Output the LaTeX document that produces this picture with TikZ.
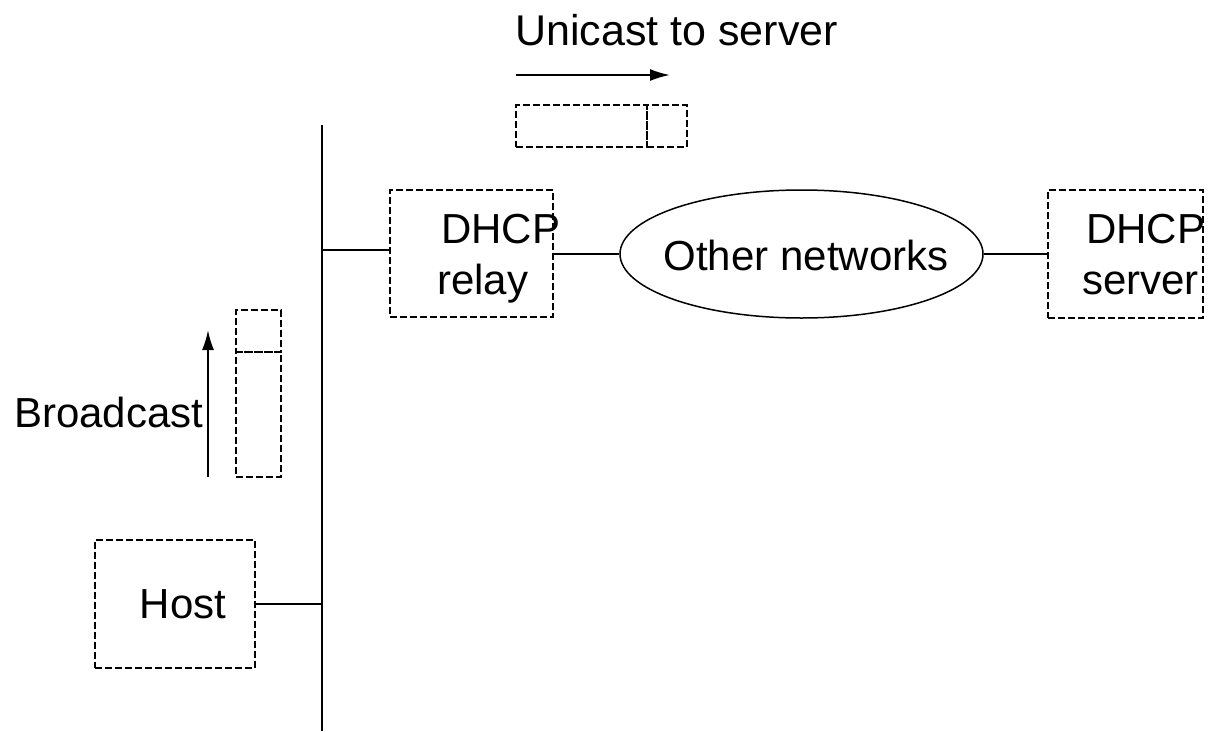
\documentclass[tikz,border=0pt]{standalone}
\usepackage{fontspec}
\setmainfont{Liberation Sans}
\usetikzlibrary{shapes.geometric,arrows.meta}
\begin{document}
\begin{tikzpicture}[x=1pt,y=-1pt,
  box/.style={draw,dashed,dash pattern=on 7pt off 3pt,line width=1.5pt,inner sep=0pt},
  lbl/.style={inner sep=0pt,font=\fontsize{42}{49}\selectfont},
  wire/.style={line width=1.5pt},
  arr/.style={line width=2pt,-{Latex[length=20pt,width=12pt]}}]
\useasboundingbox (0,0) rectangle (1209,731);
% bus
\coordinate (bt) at (322,125);
\coordinate (bb) at (322,731);
\draw[line width=2.6pt] (bt) -- (bb);
% host
\node[box,minimum width=160pt,minimum height=128pt] (host) at (175,604) {};
\node[lbl] (hostt) at (183,604) {Host};
\draw[wire] (host.east) -- (host.east -| bt);
% relay
\node[box,minimum width=163pt,minimum height=127pt] (relay) at (471.5,253.5) {};
\node[lbl,anchor=base west] (r1) at (441,243) {DHCP};
\node[lbl,anchor=base west] (r2) at (437,294) {relay};
\coordinate (rb) at (322,250);
\draw[wire] (rb) -- (relay.west |- rb);
% other networks
\node[draw,ellipse,line width=1.5pt,minimum width=363pt,minimum height=128pt,inner sep=0pt] (net) at (801.5,254) {};
\node[lbl] (nt) at (806,255) {Other networks};
\draw[wire] (relay.east |- net.west) -- (net.west);
% server
\node[box,minimum width=155pt,minimum height=128pt] (server) at (1125.5,254) {};
\node[lbl,anchor=base west] (s1) at (1086,243) {DHCP};
\node[lbl,anchor=base west] (s2) at (1082,294) {server};
\draw[wire] (net.east) -- (server.west |- net.east);
% unicast
\node[lbl,anchor=base west,font=\fontsize{43}{49}\selectfont] (ut) at (515,45) {Unicast to server};
\coordinate (ua) at (516,75);
\coordinate (ub) at (670,75);
\draw[arr] (ua) -- (ub);
\node[box,minimum width=131pt,minimum height=42pt] (up1) at (581.5,126) {};
\node[box,minimum width=40pt,minimum height=42pt] (up2) at (667,126) {};
% broadcast
\node[lbl,anchor=base west] (bc) at (14,427) {Broadcast};
\coordinate (ba) at (208,477);
\coordinate (bz) at (208,330);
\draw[arr] (ba) -- (bz);
\node[box,minimum width=45pt,minimum height=42pt] (bp1) at (258.5,331) {};
\node[box,minimum width=45pt,minimum height=125pt] (bp2) at (258.5,414.5) {};
\end{tikzpicture}
\end{document}
